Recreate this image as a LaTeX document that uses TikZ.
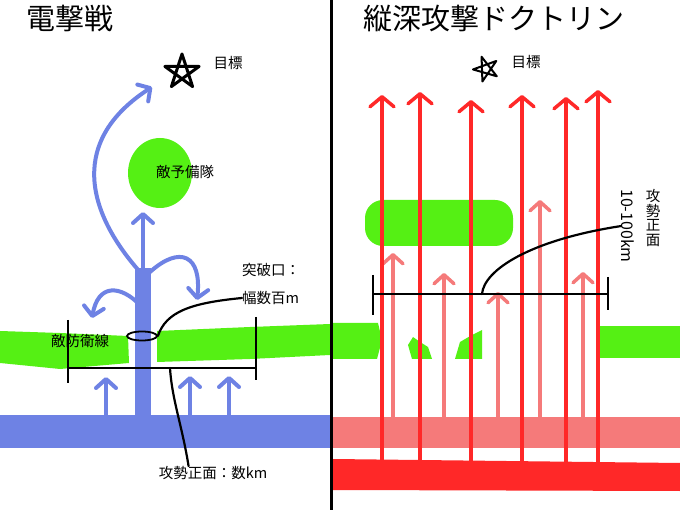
\documentclass[tikz,border=0pt]{standalone}
\usepackage{fontspec}
\setmainfont{Noto Sans CJK JP}
\usepackage{xcolor}
\definecolor{enemy}{RGB}{85, 240, 20}
\definecolor{blitz}{RGB}{110, 130, 228}
\definecolor{deep}{RGB}{255, 40, 40}
\definecolor{deeplight}{RGB}{245, 122, 122}
\usepackage{tikz}
\usetikzlibrary{arrows.meta,shapes.geometric,positioning}

\begin{document}
\begin{tikzpicture}[x=1pt, y=-1pt,
  heading/.style={font=\fontsize{29}{30}\selectfont, anchor=west, inner sep=0pt},
  note/.style={font=\fontsize{14.5}{15}\selectfont, inner sep=0pt},
  enemyblob/.style={fill=enemy, draw=none, inner sep=0pt},
  goal/.style={draw=black, line width=3pt, line join=round, line cap=round},
  bluearrow/.style={draw=blitz, line width=4pt, line cap=round, -{Straight Barb[length=9pt, width=20pt, round]}},
  redarrow/.style={draw=deep, line width=3.5pt, -{Straight Barb[length=10pt, width=24pt, round]}},
  pinkarrow/.style={draw=deeplight, line width=3.5pt, -{Straight Barb[length=9pt, width=20pt, round]}},
  bracket/.style={draw=black, line width=2.5pt},
  leader/.style={draw=black, line width=2.2pt, line cap=round}
]
\useasboundingbox[fill=white] (0,0) rectangle (680,510);

% left: blitzkrieg
\node[heading] (blitztitle) at (26,18) {電撃戦};
\coordinate (goalL) at (182,72);
\draw[goal] (goalL) +(270:18) -- +(54:18) -- +(198:18) -- +(342:18) -- +(126:18) -- cycle;
\node[note] (goalLlbl) at (228,63) {目標};

\node[enemyblob, ellipse, minimum width=64pt, minimum height=70pt] (reserve) at (160,173) {};
\node[note] (reservelbl) at (185,172) {敵予備隊};

\fill[enemy] (0,331) -- (60,333) -- (128,336) -- (129,363) -- (60,369) -- (0,363) -- cycle;
\fill[enemy] (157,331) -- (250,327) -- (330,324) -- (330,355) -- (250,359) -- (157,362) -- cycle;
\node[note] (linelbl) at (80,341) {敵防衛線};

\fill[blitz] (0,415) rectangle (330,448);
\fill[blitz] (135,268) rectangle (151,418);
\draw[bluearrow] (143,272) -- (143,212);
\draw[bluearrow] (140,272) .. controls (85,210) and (70,140) .. (152,87);
\draw[bluearrow] (141,306) .. controls (120,284) and (98,284) .. (92,318);
\draw[bluearrow] (150,272) .. controls (180,245) and (202,255) .. (197,300);
\draw[bluearrow] (106,415) -- (106,377);
\draw[bluearrow] (190,415) -- (190,376);
\draw[bluearrow] (229,415) -- (229,376);

\node[ellipse, draw=black, line width=1.8pt, minimum width=30pt, minimum height=9pt, inner sep=0pt] (breach) at (142,336) {};
\node[note, anchor=west] (breachlbl) at (242,270) {突破口：};
\node[note, anchor=west] (widthlbl) at (242,298) {幅数百m};
\draw[leader] (breach.east) .. controls (166,312) and (190,303) .. (widthlbl.west);

\coordinate (frontLa) at (68,368);
\coordinate (frontLb) at (256,368);
\coordinate (frontLmid) at (170,368);
\draw[bracket] (frontLa) -- (frontLb);
\draw[bracket] (68,320) -- (68,383);
\draw[bracket] (256,317) -- (256,380);
\node[note] (frontLlbl) at (213,473) {攻勢正面：数km};
\draw[leader] (frontLmid) .. controls (172,400) and (182,425) .. ([xshift=30pt]frontLlbl.north west);

\draw[line width=3.5pt] (331.5,0) -- (331.5,510);

% right: deep battle
\node[heading] (deeptitle) at (363,18) {縦深攻撃ドクトリン};
\coordinate (goalR) at (486,69);
\draw[goal, line width=2pt] (goalR) +(250:13) -- +(34:13) -- +(178:13) -- +(322:13) -- +(106:13) -- cycle;
\node[note] (goalRlbl) at (526,62) {目標};

\fill[enemy] (333,323) -- (378,323) -- (382,340) -- (377,359) -- (333,359) -- cycle;
\fill[enemy] (408,345) -- (413,337) -- (420,342) -- (428,347) -- (432,359) -- (412,359) -- cycle;
\fill[enemy] (455,359) -- (460,342) -- (472,335) -- (482,330) -- (482,359) -- cycle;
\fill[enemy] (599,326) -- (680,326) -- (680,358) -- (599,358) -- cycle;
\node[enemyblob, rounded corners=18pt, minimum width=148pt, minimum height=46pt] (reserveR) at (439,223) {};

\fill[deeplight] (333,417) rectangle (680,448);
\fill[deep] (333,459) -- (680,463) -- (680,491) -- (333,490) -- cycle;

\draw[pinkarrow] (393,418) -- (393,253);
\draw[pinkarrow] (444,418) -- (444,273);
\draw[pinkarrow] (498,418) -- (498,292);
\draw[pinkarrow] (540,418) -- (540,200);
\draw[pinkarrow] (583,418) -- (583,272);

\draw[redarrow] (382,462) -- (382,95);
\draw[redarrow] (420,462) -- (420,92);
\draw[redarrow] (471,462) -- (471,100);
\draw[redarrow] (522,462) -- (522,95);
\draw[redarrow] (566,462) -- (566,97);
\draw[redarrow] (598,462) -- (598,90);

\coordinate (frontRa) at (373,294);
\coordinate (frontRb) at (608,294);
\coordinate (frontRmid) at (482,294);
\draw[bracket] (frontRa) -- (frontRb);
\draw[bracket] (373,275) -- (373,315);
\draw[bracket] (608,277) -- (608,310);
\node[note, align=center, font=\fontsize{14.5}{14.5}\selectfont] (frontRlbl) at (653,218) {攻\\勢\\正\\面};
\node[note, rotate=-90, font=\fontsize{16}{16}\selectfont] (depthkm) at (628,226) {10-100km};
\draw[leader] (frontRmid) .. controls (484,270) and (530,240) .. (depthkm.south);
\end{tikzpicture}
\end{document}
